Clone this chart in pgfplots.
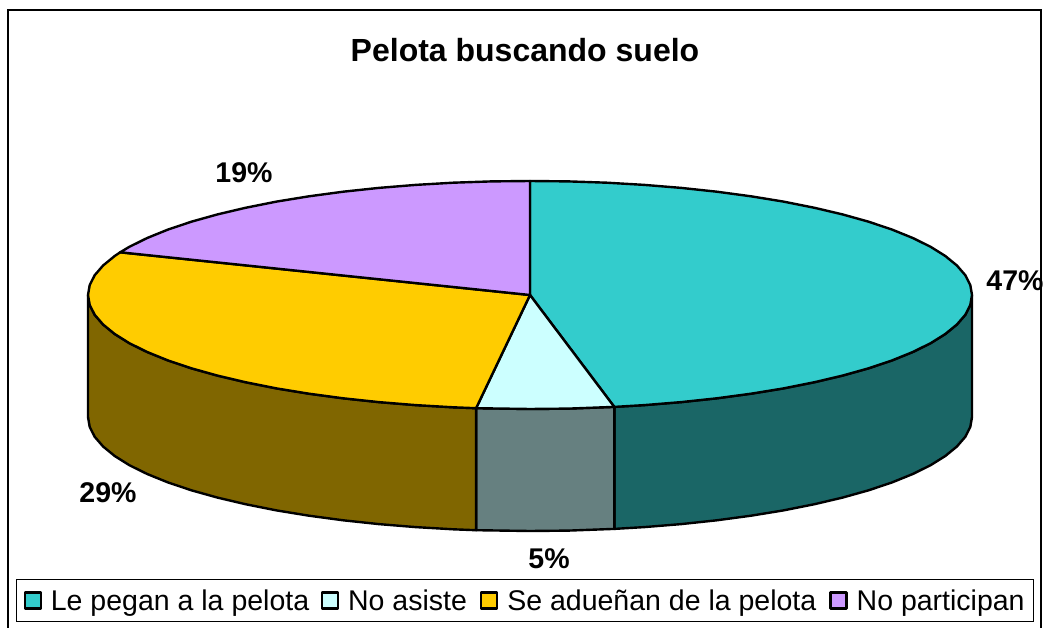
\documentclass[border=0pt]{standalone}
\usepackage{fontspec}
\setmainfont{Liberation Sans}
\usepackage{pgfplots}
\pgfplotsset{compat=1.18}
\definecolor{teal1}{HTML}{33CCCC}
\definecolor{teal2}{HTML}{1A6666}
\definecolor{light1}{HTML}{CCFFFF}
\definecolor{light2}{HTML}{668080}
\definecolor{yell1}{HTML}{FFCC00}
\definecolor{yell2}{HTML}{806600}
\definecolor{purp1}{HTML}{CC99FF}
\pgfplotsset{
  wedge/.style={draw=black, line width=2.4pt, line join=round, fill=#1,
    legend image code/.code={
      \draw[##1, line width=2.4pt] (0pt,-8pt) rectangle (16pt,8pt);
      \path (23pt,0pt);
    }},
}
\begin{document}
\begin{tikzpicture}
\begin{axis}[
    scale only axis,
    width=1044pt, height=628pt,
    xmin=0, xmax=1044, ymin=0, ymax=628,
    y dir=reverse,
    axis lines=none,
    clip=true,
    legend columns=4,
    legend cell align=left,
    legend style={
      at={(axis cs:16,579)}, anchor=north west,
      draw=black, line width=1pt, fill=white,
      font=\fontsize{28.5}{30}\selectfont,
      inner xsep=7pt, inner ysep=9pt,
      nodes={inner xsep=2pt, inner ysep=1pt},
      /tikz/column 2/.style={column sep=9.5pt},
      /tikz/column 4/.style={column sep=11pt},
      /tikz/column 6/.style={column sep=11pt},
    },
]
% frame
\addplot[forget plot, black, line width=1.6pt] coordinates {(8,628) (8,10) (1041,10) (1041,628)};

% side walls
\addplot[forget plot, wedge=teal2] coordinates {
  (972,295) (970.3,304.9) (965.3,314.8) (956.9,324.5) (945.3,334) (930.6,343.2) (912.8,352) (892.1,360.4)
  (868.6,368.3) (842.5,375.6) (814.1,382.3) (783.5,388.4) (751,393.7) (716.8,398.3) (681.2,402.1) (644.4,405.1) (614.3,406.9)
  (614.3,528.9) (644.4,527.1) (681.2,524.1) (716.8,520.3) (751,515.7) (783.5,510.4) (814.1,504.3) (842.5,497.6) (868.6,490.3)
  (892.1,482.4) (912.8,474) (930.6,465.2) (945.3,456) (956.9,446.5) (965.3,436.8) (970.3,426.9) (972,417)
} -- cycle;
\addplot[forget plot, wedge=light2] coordinates {
  (614.3,406.9) (568.5,408.6) (530,409) (476.1,408.2)
  (476.1,530.2) (530,531) (568.5,530.6) (614.3,528.9)
} -- cycle;
\addplot[forget plot, wedge=yell2] coordinates {
  (476.1,408.2) (453.2,407.3) (415.6,405.1) (378.8,402.1) (343.2,398.3) (309,393.7) (276.5,388.4) (245.9,382.3)
  (217.5,375.6) (191.4,368.3) (167.9,360.4) (147.2,352) (129.4,343.2) (114.7,334) (103.1,324.5) (94.7,314.8) (89.7,304.9) (88,295)
  (88,417) (89.7,426.9) (94.7,436.8) (103.1,446.5) (114.7,456) (129.4,465.2) (147.2,474) (167.9,482.4) (191.4,490.3)
  (217.5,497.6) (245.9,504.3) (276.5,510.4) (309,515.7) (343.2,520.3) (378.8,524.1) (415.6,527.1) (453.2,529.3) (476.1,530.2)
} -- cycle;

% top face
\addplot[wedge=teal1] coordinates {
  (530,295) (530,181) (568.5,181.4) (606.8,182.7) (644.4,184.9) (681.2,187.9) (716.8,191.7) (751,196.3) (783.5,201.6)
  (814.1,207.7) (842.5,214.4) (868.6,221.7) (892.1,229.6) (912.8,238) (930.6,246.8) (945.3,256) (956.9,265.5) (965.3,275.2)
  (970.3,285.1) (972,295) (970.3,304.9) (965.3,314.8) (956.9,324.5) (945.3,334) (930.6,343.2) (912.8,352) (892.1,360.4)
  (868.6,368.3) (842.5,375.6) (814.1,382.3) (783.5,388.4) (751,393.7) (716.8,398.3) (681.2,402.1) (644.4,405.1) (614.3,406.9)
} -- cycle;
\addlegendentry{Le pegan a la pelota}
\addplot[wedge=light1] coordinates {
  (530,295) (614.3,406.9) (568.5,408.6) (530,409) (476.1,408.2)
} -- cycle;
\addlegendentry{No asiste}
\addplot[wedge=yell1] coordinates {
  (530,295) (476.1,408.2) (453.2,407.3) (415.6,405.1) (378.8,402.1) (343.2,398.3) (309,393.7) (276.5,388.4) (245.9,382.3)
  (217.5,375.6) (191.4,368.3) (167.9,360.4) (147.2,352) (129.4,343.2) (114.7,334) (103.1,324.5) (94.7,314.8) (89.7,304.9)
  (88,295) (89.7,285.1) (94.7,275.2) (103.1,265.5) (114.7,256) (120.2,252.3)
} -- cycle;
\addlegendentry{Se adueñan de la pelota}
\addplot[wedge=purp1] coordinates {
  (530,295) (120.2,252.3) (129.4,246.8) (147.2,238) (167.9,229.6) (191.4,221.7) (217.5,214.4) (245.9,207.7) (276.5,201.6)
  (309,196.3) (343.2,191.7) (378.8,187.9) (415.6,184.9) (453.2,182.7) (491.5,181.4) (530,181)
} -- cycle;
\addlegendentry{No participan\hspace{1pt}}

% labels
\node[font=\fontsize{32}{34}\selectfont\bfseries] at (axis cs:525,50) {Pelota buscando suelo};
\node[font=\fontsize{28.5}{30}\selectfont\bfseries] at (axis cs:244,173) {19\%};
\node[font=\fontsize{28.5}{30}\selectfont\bfseries] at (axis cs:1015,281) {47\%};
\node[font=\fontsize{28.5}{30}\selectfont\bfseries] at (axis cs:108,493) {29\%};
\node[font=\fontsize{28.5}{30}\selectfont\bfseries] at (axis cs:549,559) {5\%};
\end{axis}
\pgfresetboundingbox
\path[use as bounding box] (0,0) rectangle (1044pt,628pt);
\end{tikzpicture}
\end{document}
